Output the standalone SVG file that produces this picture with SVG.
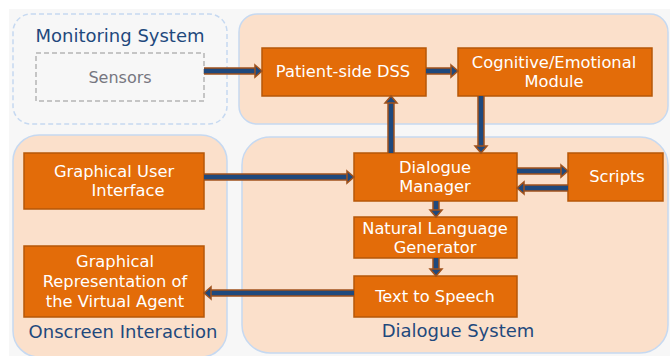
<svg xmlns="http://www.w3.org/2000/svg" width="670" height="356" viewBox="0 0 670 356">
<style>
text{font-family:"DejaVu Sans","Liberation Sans",sans-serif}
.grp{fill:#fbe0cb;stroke:#c6d9f1;stroke-width:1.5}
.title{font-size:18px;fill:#1f497d;text-anchor:middle}
.box{fill:#e36c09;stroke:#b65708;stroke-width:1.5}
.lbl{font-size:16.3px;fill:#ffffff;text-anchor:middle}
.o{fill:none;stroke:#a0521c;stroke-width:7.5}
.i{fill:none;stroke:#1f497d;stroke-width:4.5;marker-end:url(#ah)}
</style>
<defs>
<marker id="ah" markerUnits="userSpaceOnUse" markerWidth="14" markerHeight="14" refX="1" refY="7" orient="auto" overflow="visible">
<path d="M1,1 L8,7 L1,13 Z" fill="#1f497d" stroke="#a0521c" stroke-width="1.5"/>
</marker>
</defs>
<rect x="9" y="9" width="661" height="347" fill="#f7f7f7"/>

<g id="monitoring-system">
<rect x="13" y="14" width="214" height="110" rx="18" fill="#f7f7f7" stroke="#c6d9f1" stroke-width="1.5" stroke-dasharray="5,3"/>
<text class="title" x="120" y="42">Monitoring System</text>
</g>
<g id="top-group">
<rect class="grp" x="239" y="14" width="429" height="110" rx="18"/>
</g>
<g id="onscreen-interaction">
<rect class="grp" x="13" y="135" width="214" height="222" rx="26"/>
<text class="title" x="123" y="338">Onscreen Interaction</text>
</g>
<g id="dialogue-system">
<rect class="grp" x="242" y="137" width="426" height="216" rx="28"/>
<text class="title" x="458" y="337">Dialogue System</text>
</g>

<g id="sensors">
<rect x="36" y="53" width="168" height="48" fill="none" stroke="#b5b5b5" stroke-width="1.5" stroke-dasharray="5,3"/>
<text x="120" y="83" font-size="16" fill="#767680" text-anchor="middle">Sensors</text>
</g>
<g id="patient-dss">
<rect class="box" x="262" y="48" width="164" height="48"/>
<text class="lbl" x="343" y="77">Patient-side DSS</text>
</g>
<g id="cognitive-module">
<rect class="box" x="458" y="48" width="194" height="48"/>
<text class="lbl" x="554" y="68">Cognitive/Emotional</text>
<text class="lbl" x="554" y="87">Module</text>
</g>
<g id="gui">
<rect class="box" x="24" y="153" width="180" height="56"/>
<text class="lbl" x="114" y="177">Graphical User</text>
<text class="lbl" x="128" y="196">Interface</text>
</g>
<g id="graphical-representation">
<rect class="box" x="24" y="246" width="180" height="71"/>
<text class="lbl" x="115" y="267">Graphical</text>
<text class="lbl" x="115" y="287">Representation of</text>
<text class="lbl" x="115" y="307">the Virtual Agent</text>
</g>
<g id="dialogue-manager">
<rect class="box" x="354" y="153" width="163" height="48"/>
<text class="lbl" x="435" y="173">Dialogue</text>
<text class="lbl" x="435" y="192">Manager</text>
</g>
<g id="scripts">
<rect class="box" x="568" y="153" width="95" height="48"/>
<text class="lbl" x="617" y="182">Scripts</text>
</g>
<g id="nlg">
<rect class="box" x="354" y="217" width="163" height="41"/>
<text class="lbl" x="435" y="234">Natural Language</text>
<text class="lbl" x="435" y="253">Generator</text>
</g>
<g id="tts">
<rect class="box" x="354" y="276" width="163" height="41"/>
<text class="lbl" x="435" y="302">Text to Speech</text>
</g>

<g id="connectors">
<path class="o" d="M204,71 H255"/><path class="i" d="M204,71 H255"/>
<path class="o" d="M426,71 H451"/><path class="i" d="M426,71 H451"/>
<path class="o" d="M481,96 V146"/><path class="i" d="M481,96 V146"/>
<path class="o" d="M391,153 V103"/><path class="i" d="M391,153 V103"/>
<path class="o" d="M204,177 H347"/><path class="i" d="M204,177 H347"/>
<path class="o" d="M517,171 H561"/><path class="i" d="M517,171 H561"/>
<path class="o" d="M568,188 H524"/><path class="i" d="M568,188 H524"/>
<path class="o" d="M436,201 V210"/><path class="i" d="M436,201 V210"/>
<path class="o" d="M436,258 V269"/><path class="i" d="M436,258 V269"/>
<path class="o" d="M354,293 H211"/><path class="i" d="M354,293 H211"/>
</g>
</svg>
